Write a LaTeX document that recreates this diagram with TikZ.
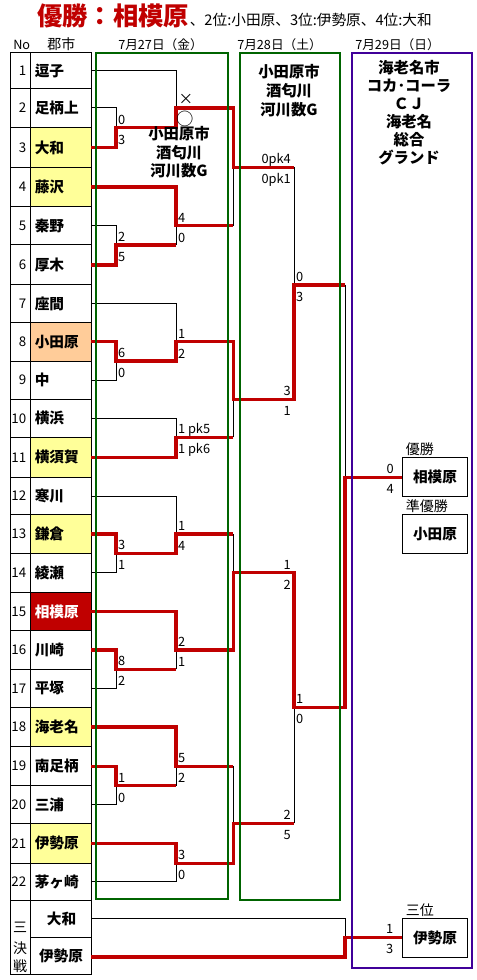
\documentclass[tikz,border=0pt]{standalone}
\usepackage{fontspec}
\setmainfont{Noto Sans CJK JP}
\definecolor{wred}{RGB}{192,0,0}
\definecolor{dgreen}{RGB}{0,100,0}
\definecolor{purp}{RGB}{64,0,153}
\definecolor{ylw}{RGB}{255,255,153}
\definecolor{org}{RGB}{255,204,153}
\newcommand\fname{\fontsize{11}{13}\selectfont\bfseries}
\newcommand\fnum{\fontsize{10}{12}\selectfont}
\newcommand\fsc{\fontsize{9.6}{11}\selectfont}
\newcommand\fhd{\fontsize{9.5}{11}\selectfont}
\newcommand\fven{\fontsize{11.5}{14}\selectfont\bfseries}
\newcommand\fttl{\fontsize{19}{22}\selectfont\bfseries}
\newcommand\fsub{\fontsize{11}{13}\selectfont}
\newcommand\flab{\fontsize{10.5}{12}\selectfont}
\newcommand\fbx{\fontsize{11}{13}\selectfont\bfseries}
% score labels: above / below a junction
\newcommand\scL[3]{% left aligned, right of junction
  \node[lab,anchor=base west] (#1u) at ([shift={(1.8,-3.5)}]#1) {#2};
  \node[lab,anchor=base west] (#1d) at ([shift={(1.8,16.5)}]#1) {#3};}
\newcommand\scR[4]{% right aligned at given x offset
  \node[lab,anchor=base east] (#1u) at ([shift={(#4,-3.5)}]#1) {#2};
  \node[lab,anchor=base east] (#1d) at ([shift={(#4,16.5)}]#1) {#3};}
\def\rowlist{1/52.7/88.3/逗子/white/black,2/88.3/127.7/足柄上/white/black,3/127.7/167.3/大和/ylw/black,4/167.3/206.7/藤沢/ylw/black,5/206.7/245/秦野/white/black,6/245/285/厚木/white/black,7/285/322.7/座間/white/black,8/322.7/361/小田原/org/black,9/361/399.3/中/white/black,10/399.3/437.3/横浜/white/black,11/437.3/477.3/横須賀/ylw/black,12/477.3/514.7/寒川/white/black,13/514.7/553.3/鎌倉/ylw/black,14/553.3/592.3/綾瀬/white/black,15/592.3/630.7/相模原/wred/white,16/630.7/669.3/川崎/white/black,17/669.3/707.3/平塚/white/black,18/707.3/746.7/海老名/ylw/black,19/746.7/785.7/南足柄/white/black,20/785.7/823.3/三浦/white/black,21/823.3/863.3/伊勢原/ylw/black,22/863.3/900/茅ヶ崎/white/black}
\begin{document}
\begin{tikzpicture}[x=0.75pt,y=-0.75pt,
  blk/.style={black,line width=0.75pt},
  win/.style={wred,line width=2.4pt,line join=miter},
  grid/.style={black,line width=0.75pt},
  gbox/.style={dgreen,line width=1.6pt},
  pbox/.style={purp,line width=1.6pt},
  lab/.style={font=\fsc,inner sep=0pt},
  ven/.style={font=\fven,inner sep=0pt,anchor=base},
  hd/.style={font=\fhd,inner sep=0pt,anchor=base west},
  rbox/.style={draw=black,line width=0.75pt,fill=white,minimum width=49pt,minimum height=29pt,inner sep=0pt,font=\fbx},
  blab/.style={font=\flab,inner sep=0pt,anchor=base west}]
\useasboundingbox (0,0) rectangle (476,980);
\fill[white] (0,0) rectangle (476,980);

% title
\node[anchor=base west,inner sep=0pt,text=wred,font=\fttl] (title) at (37,26) {優勝：相模原};
\node[anchor=base west,inner sep=0pt,font=\fsub] (sub) at (title.base east) {、2位:小田原、3位:伊勢原、4位:大和};

% header
\node[hd] (hno) at (13,49.5) {No};
\node[hd,font=\fontsize{10.5}{12}\selectfont] (hcity) at (47,49.5) {郡市};
\node[hd] (hd1) at (118,49.5) {7月27日（金）};
\node[hd] (hd2) at (237,49.5) {7月28日（土）};
\node[hd] (hd3) at (355,49.5) {7月29日（日）};

% table fills
\foreach \rn/\rt/\rb/\nm/\fcol/\tcol in \rowlist {
  \fill[\fcol] (30.3,\rt) rectangle (91.3,\rb);
}
% table borders, texts, line starts
\foreach \rn/\rt/\rb/\nm/\fcol/\tcol in \rowlist {
  \draw[grid] (10,\rt) rectangle (30.3,\rb);
  \draw[grid] (30.3,\rt) rectangle (91.3,\rb);
  \node[anchor=east,font=\fnum,inner sep=0pt] (no\rn) at (26.5,{(\rt+\rb)/2}) {\rn};
  \node[anchor=west,font=\fname,text=\tcol,inner sep=0pt] (n\rn) at (34.5,{(\rt+\rb)/2}) {\nm};
  \coordinate (s\rn) at (91.3,{(\rt+\rb)/2});
}
% third-place rows
\draw[grid] (10,900) rectangle (30.3,974);
\draw[grid] (30.3,900) rectangle (91.3,937);
\draw[grid] (30.3,937) rectangle (91.3,974);
\node[font=\flab,inner sep=0pt] (k1) at (20,927.7) {三};
\node[font=\flab,inner sep=0pt] (k2) at (20,947.7) {決};
\node[font=\flab,inner sep=0pt] (k3) at (20,965.7) {戦};
\node[font=\fname,inner sep=0pt] (p1) at (61.5,918.5) {大和};
\node[font=\fname,inner sep=0pt] (p2) at (61,955.5) {伊勢原};
\coordinate (t3a) at (91.3,918.3);
\coordinate (t3b) at (91.3,957);

% junctions
\coordinate (a23) at (116,127.7);
\coordinate (a56) at (116,245);
\coordinate (a89) at (116,361);
\coordinate (a1314) at (116,553.3);
\coordinate (a1617) at (116,669.3);
\coordinate (a1920) at (116,785.7);
\coordinate (b1) at (176,108);
\coordinate (b2) at (176,225.85);
\coordinate (b3) at (176,341.85);
\coordinate (b4) at (176,437.3);
\coordinate (b5) at (176,534);
\coordinate (b6) at (176,650);
\coordinate (b7) at (176,766.2);
\coordinate (b8) at (176,863.3);
\coordinate (c1) at (233.3,167.3);
\coordinate (c2) at (233.3,399.3);
\coordinate (c3) at (233.3,572.8);
\coordinate (c4) at (233.3,823.3);
\coordinate (d1) at (294,285);
\coordinate (d2) at (294,707.3);
\coordinate (e1) at (345,477.3);
\coordinate (f) at (345,937.3);

% result boxes
\node[rbox] (champ) at (435,477.3) {相模原};
\node[rbox] (second) at (435,533.8) {小田原};
\node[rbox] (third) at (435,937.8) {伊勢原};
\node[blab] (lchamp) at (405.5,454) {優勝};
\node[blab] (lsecond) at (405.5,511.5) {準優勝};
\node[blab] (lthird) at (405.5,915.5) {三位};

% black (losing) lines
\draw[blk] (s1) -| (b1);
\draw[blk] (s2) -| (a23);
\draw[blk] (s5) -| (a56);
\draw[blk] (a56 -| b2) -- (b2);
\draw[blk] (s7) -| (b3);
\draw[blk] (s9) -| (a89);
\draw[blk] (s10) -| (b4);
\draw[blk] (s12) -| (b5);
\draw[blk] (s14) -| (a1314);
\draw[blk] (a1617 -| b6) -- (b6);
\draw[blk] (s17) -| (a1617);
\draw[blk] (a1920 -| b7) -- (b7);
\draw[blk] (s20) -| (a1920);
\draw[blk] (s22) -| (b8);
\draw[blk] (b2 -| c1) -- (c1);
\draw[blk] (b4 -| c2) -- (c2);
\draw[blk] (b5 -| c3) -- (c3);
\draw[blk] (b7 -| c4) -- (c4);
\draw[blk] (c1 -| d1) -- (d1);
\draw[blk] (c4 -| d2) -- (d2);
\draw[blk] (d1 -| e1) -- (e1);
\draw[blk] (t3a) -| (f);

% red (winning) lines
\draw[win] (s3) -| (a23) -| (b1) -| (c1) -- (c1 -| d1);
\draw[win] (s4) -| (b2) -- (b2 -| c1);
\draw[win] (s6) -| (a56) -- (a56 -| b2);
\draw[win] (s8) -| (a89) -| (b3) -| (c2) -| (d1) -- (d1 -| e1);
\draw[win] (s11) -| (b4) -- (b4 -| c2);
\draw[win] (s13) -| (a1314) -| (b5) -- (b5 -| c3);
\draw[win] (s15) -| (b6) -| (c3) -| (d2) -| (e1) -- (e1 -| champ.west);
\draw[win] (s16) -| (a1617) -- (a1617 -| b6);
\draw[win] (s18) -| (b7) -- (b7 -| c4);
\draw[win] (s19) -| (a1920) -- (a1920 -| b7);
\draw[win] (s21) -| (b8) -| (c4) -- (c4 -| d2);
\draw[win] (t3b) -| (f) -- (f -| third.west);

% day frames
\draw[gbox] (95.7,52.7) rectangle (228.3,899.3);
\draw[gbox] (240,52.7) rectangle (340,900);
\draw[pbox] (351.7,52.7) rectangle (471.7,967.7);

% venues
\node[ven] (v1a) at (179,139.5) {小田原市};
\node[ven] (v1b) at (179,158.5) {酒匂川};
\node[ven] (v1c) at (179,177) {河川数G};
\node[ven] (v2a) at (289,78) {小田原市};
\node[ven] (v2b) at (289,97) {酒匂川};
\node[ven] (v2c) at (289,115.5) {河川数G};
\node[ven] (v3a) at (409,74) {海老名市};
\node[ven] (v3b) at (409,92) {コカ･コーラ};
\node[ven] (v3c) at (409,110) {ＣＪ};
\node[ven] (v3d) at (409,128) {海老名};
\node[ven] (v3e) at (409,146) {総合};
\node[ven] (v3f) at (409,164) {グランド};

% scores
\scL{a23}{0}{3}
\scL{a56}{2}{5}
\scL{a89}{6}{0}
\scL{a1314}{3}{1}
\scL{a1617}{8}{2}
\scL{a1920}{1}{0}
\node[font=\fontsize{11}{12}\selectfont,inner sep=0pt] (b1u) at (186,99) {×};
\node[font=\fontsize{13}{14}\selectfont,inner sep=0pt] (b1d) at (185.5,119) {○};
\scL{b2}{4}{0}
\scL{b3}{1}{2}
\scL{b4}{1 pk5}{1 pk6}
\scL{b5}{1}{4}
\scL{b6}{2}{1}
\scL{b7}{5}{2}
\scL{b8}{3}{0}
\scR{c1}{0pk4}{0pk1}{57.7}
\scR{c2}{3}{1}{57.7}
\scR{c3}{1}{2}{57.7}
\scR{c4}{2}{5}{57.7}
\scL{d1}{0}{3}
\scL{d2}{1}{0}
\scR{e1}{0}{4}{49}
\scR{f}{1}{3}{48.5}
\end{tikzpicture}
\end{document}
